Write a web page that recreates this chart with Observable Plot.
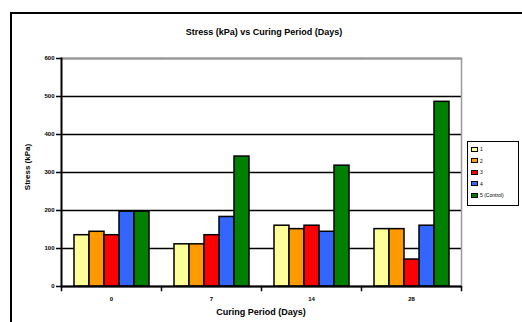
<!DOCTYPE html>
<html><head><meta charset="utf-8">
<script src="https://cdn.jsdelivr.net/npm/d3@7"></script>
<script src="https://cdn.jsdelivr.net/npm/@observablehq/plot@0.6"></script>
<style>
body{margin:0;background:#fff;font-family:"Liberation Sans",Arial,sans-serif;overflow:hidden}
#wrap{position:relative;width:522px;height:322px;overflow:hidden}
#outer{position:absolute;left:10px;top:12px;width:600px;height:400px;border:2px solid #000;box-sizing:border-box}
#chart{position:absolute;left:0;top:0}
.t{position:absolute;color:#000;white-space:nowrap;font-weight:bold}
#title{top:27px;left:264px;transform:translateX(-50%);font-size:9px}
#xlab{top:307px;left:261px;transform:translateX(-50%);font-size:9px}
#ylab{left:27px;top:167px;transform:translate(-50%,-50%) rotate(-90deg);font-size:8px}
#legend{position:absolute;left:467px;top:141px;width:52px;height:65px;border:1.5px solid #000;box-sizing:border-box;background:#fff}
.li{position:absolute;left:3px;font-size:5px;display:flex;align-items:center;gap:2px}
.sw{width:7px;height:5px;border:1px solid #000;box-sizing:border-box}
</style></head>
<body>
<div id="wrap">
<div id="outer"></div>
<div id="chart"></div>
<div class="t" id="title">Stress (kPa) vs Curing Period (Days)</div>
<div class="t" id="xlab">Curing Period (Days)</div>
<div class="t" id="ylab">Stress (kPa)</div>
<div id="legend"></div>
</div>
<script>
const days = ["0", "7", "14", "28"];
const seriesNames = ["1", "2", "3", "4", "5 (Control)"];
const seriesColors = ["#FFFF99", "#FF9900", "#FF0000", "#3366FF", "#008000"];
const s1 = [135, 111, 160, 151];
const s2 = [144, 111, 151, 151];
const s3 = [135, 135, 160, 71];
const s4 = [197, 183, 144, 160];
const s5 = [197, 342, 318, 486];
const yTicks = [0, 100, 200, 300, 400, 500, 600];

const allSeries = [s1, s2, s3, s4, s5];
const data = days.flatMap((d, i) => seriesNames.map((s, j) => ({day: d, series: s, value: allSeries[j][i]})));

const chart = Plot.plot({
  width: 522, height: 322,
  marginLeft: 59, marginRight: 60, marginTop: 58, marginBottom: 36,
  style: {fontFamily: "Liberation Sans, Arial, sans-serif", background: "transparent"},
  fx: {domain: days, padding: 0, label: null},
  x: {domain: seriesNames, axis: null, paddingInner: 0, paddingOuter: 0.72},
  y: {domain: [0, 600], label: null},
  color: {domain: seriesNames, range: seriesColors},
  marks: [
    Plot.ruleY(yTicks, {stroke: "#000", strokeWidth: 1.5}),
    Plot.frame({anchor: "top", stroke: "#999", strokeWidth: 1.5}),
    Plot.frame({anchor: "right", facetAnchor: "right", stroke: "#999", strokeWidth: 1.5}),
    Plot.frame({anchor: "left", stroke: "#000", strokeWidth: 1.5, insetTop: 228, insetBottom: -4}),
    Plot.frame({anchor: "left", facetAnchor: "left", stroke: "#000", strokeWidth: 2}),
    Plot.frame({anchor: "right", facetAnchor: "right", stroke: "#000", strokeWidth: 1.5, insetTop: 228, insetBottom: -4}),
    Plot.barY(data, {fx: "day", x: "series", y: "value", fill: "series", stroke: "#000", strokeWidth: 1.5}),
    Plot.axisY({ticks: yTicks, tickSize: 5, tickPadding: 2, fontSize: 6, fontWeight: "bold", label: null, strokeWidth: 1.5}),
    Plot.axisFx({anchor: "bottom", tickSize: 0, tickPadding: 10, fontSize: 6, fontWeight: "bold", label: null}),
    Plot.ruleY([0], {stroke: "#000", strokeWidth: 2})
  ]
});
document.getElementById("chart").appendChild(chart);

const lg = document.getElementById("legend");
seriesNames.forEach((s, i) => {
  const d = document.createElement("div");
  d.className = "li";
  d.style.top = (4 + i * 11.5) + "px";
  d.innerHTML = `<span class="sw" style="background:${seriesColors[i]}"></span><span>${s}</span>`;
  lg.appendChild(d);
});
</script>
</body></html>
